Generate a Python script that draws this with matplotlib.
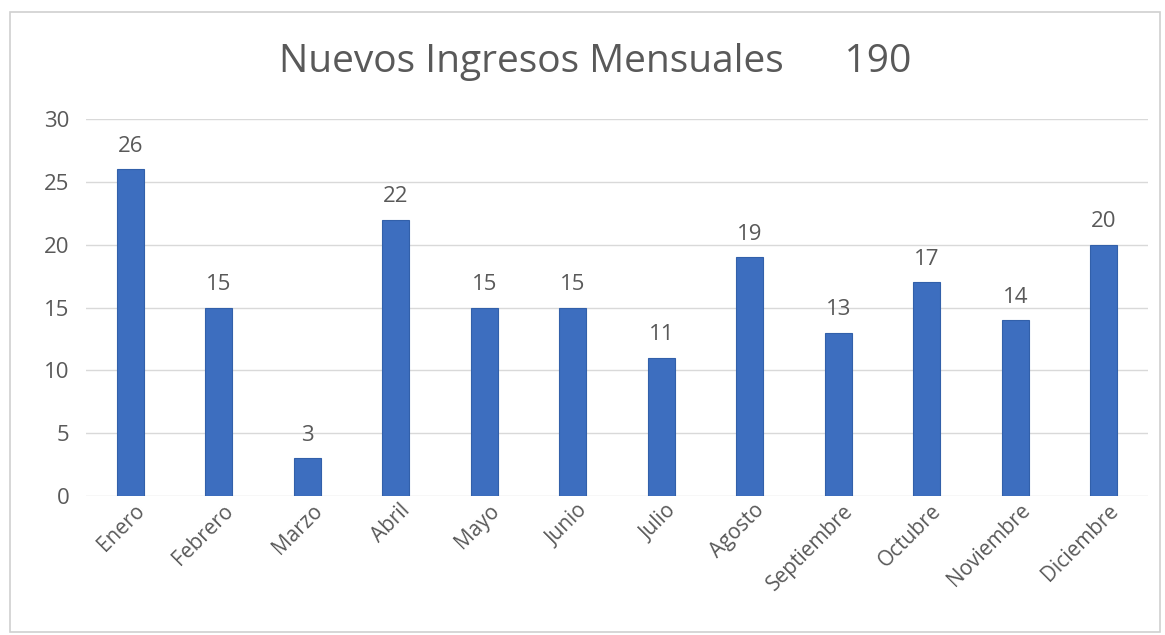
import numpy as np
import matplotlib.pyplot as plt
import matplotlib.transforms as mtransforms
from matplotlib.patches import Rectangle

# datos
meses = ['Enero', 'Febrero', 'Marzo', 'Abril', 'Mayo', 'Junio', 'Julio',
         'Agosto', 'Septiembre', 'Octubre', 'Noviembre', 'Diciembre']
ingresos = [26, 15, 3, 22, 15, 15, 11, 19, 13, 17, 14, 20]
total = 190
yticks = [0, 5, 10, 15, 20, 25, 30]

plt.rcParams['font.family'] = ['Open Sans', 'DejaVu Sans']
gris = '#595959'

fig = plt.figure(figsize=(11.65, 6.35), dpi=100)
ax = fig.add_axes([86/1165, 1 - 496/635, (1148-86)/1165, (496-119)/635])

x = np.arange(len(meses))
ax.bar(x, ingresos, width=0.31, color='#3D6EBF', edgecolor='#3260AA', linewidth=0.8, zorder=3)

for xi, v in zip(x, ingresos):
    ax.annotate(str(v), xy=(xi, v), xytext=(0, 9), textcoords='offset points',
                ha='center', va='bottom', fontsize=16, color=gris)

ax.set_xlim(-0.5, len(meses) - 0.5)
ax.set_ylim(0, 30)
ax.set_yticks(yticks)
ax.set_xticks(x)
ax.set_xticklabels(meses, rotation=45, ha='right', rotation_mode='anchor', fontsize=15, color=gris)
ax.tick_params(axis='y', labelsize=16, labelcolor=gris, length=0, pad=12)
ax.tick_params(axis='x', length=0, pad=3)
# mover un poco las etiquetas a la derecha
desplaza = mtransforms.ScaledTranslation(3/72, 0, fig.dpi_scale_trans)
for lab in ax.get_xticklabels():
    lab.set_transform(lab.get_transform() + desplaza)
ax.grid(axis='y', color='#D9D9D9', linewidth=1, zorder=0)
for s in ax.spines.values():
    s.set_visible(False)

fig.text(595/1165, 1 - 62/635, 'Nuevos Ingresos Mensuales      ' + str(total),
         ha='center', va='center', fontsize=28, color=gris)

# borde del grafico
fig.patches.append(Rectangle((10/1165, 3/635), 1150/1165, 620/635, transform=fig.transFigure,
                             fill=False, edgecolor='#D0D0D0', linewidth=1.2))

fig.savefig('out.png', dpi=100)
